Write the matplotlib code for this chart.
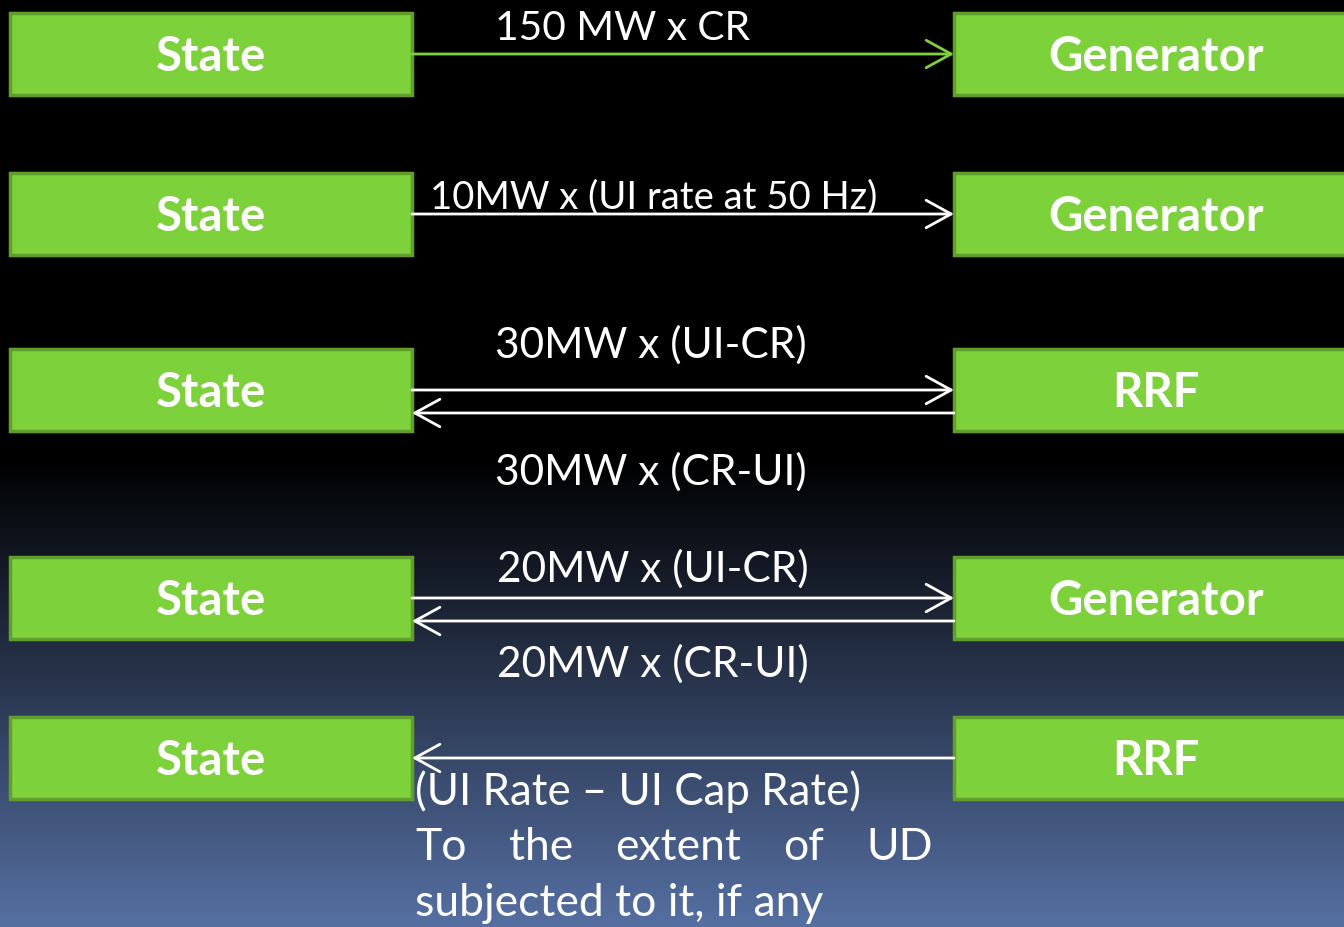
import numpy as np
import matplotlib
matplotlib.use("Agg")
import matplotlib.pyplot as plt
from matplotlib.patches import Rectangle

# ---------------- dados do diagrama ----------------
left_labels = ["State", "State", "State", "State", "State"]
right_labels = ["Generator", "Generator", "RRF", "Generator", "RRF"]

# direcção das setas por linha: +1 = State -> direita, -1 = direita -> State
arrow_dirs = [[1], [1], [1, -1], [1, -1], [-1]]
arrow_colors = ["#7dd13b", "white", "white", "white", "white"]

labels_above = ["150 MW x CR", "10MW x (UI rate at 50 Hz)", "30MW x (UI-CR)",
                "20MW x (UI-CR)", "(UI Rate \u2013 UI Cap Rate)"]
labels_below = ["", "", "30MW x (CR-UI)", "20MW x (CR-UI)", ""]
note_lines = ["To the extent of UD", "subjected to it, if any"]
# ---------------------------------------------------

W, H = 1344, 927
BOX_FILL = "#7dd13b"
BOX_EDGE = "#629e2b"
row_top = [13, 173, 349, 557, 717]
BOX_H = 82
LEFT_X0, LEFT_X1 = 10, 412
RIGHT_X0, RIGHT_X1 = 954, 1360

fig = plt.figure(figsize=(W / 100, H / 100), dpi=100)
ax = fig.add_axes([0, 0, 1, 1])
ax.set_xlim(0, W)
ax.set_ylim(H, 0)
ax.axis("off")

# fundo: preto em cima, degradé para azul acinzentado em baixo
ys = np.arange(H)
frac = np.clip((ys - 460) / (H - 460), 0, 1)
top = np.array([0, 0, 0]) / 255
bot = np.array([86, 112, 163]) / 255
grad = top[None, :] + frac[:, None] * (bot - top)[None, :]
img = np.repeat(grad[:, None, :], 2, axis=1)
ax.imshow(img, extent=(0, W, H, 0), aspect="auto", zorder=0)

box_font = dict(family=["Lato", "DejaVu Sans"], weight="bold", size=34, color="white")
FAM = ["Lato", "DejaVu Sans"]

arrow_style = "->,head_length=1.0,head_width=0.55"

for i in range(len(left_labels)):
    t = row_top[i]
    for x0, x1, txt in [(LEFT_X0, LEFT_X1, left_labels[i]), (RIGHT_X0, RIGHT_X1, right_labels[i])]:
        ax.add_patch(Rectangle((x0, t), x1 - x0, BOX_H, facecolor=BOX_FILL,
                               edgecolor=BOX_EDGE, linewidth=2.5, zorder=2))
        cx = 211 if x0 == LEFT_X0 else 1156
        ax.text(cx, t + BOX_H / 2 + 17, txt, ha="center", va="baseline", zorder=3, **box_font)

    dirs = arrow_dirs[i]
    offs = [0, 23][:len(dirs)]
    for d, o in zip(dirs, offs):
        y = t + BOX_H / 2 + o
        if d > 0:
            start, end = LEFT_X1, RIGHT_X0
        else:
            start, end = RIGHT_X0, LEFT_X1
        ax.annotate("", xy=(end, y), xytext=(start, y), zorder=4,
                    arrowprops=dict(arrowstyle=arrow_style, color=arrow_colors[i],
                                    lw=2, shrinkA=0, shrinkB=0, mutation_scale=18))

# rótulos das setas
above_pos = [(495, 40), (430, 208), (495, 358), (497, 582), (415, 805)]
above_size = [29.3, 27.5, 30.5, 30.5, 31.5]
below_pos = [None, None, (495, 485), (497, 677), None]
for i in range(len(labels_above)):
    x, y = above_pos[i]
    ax.text(x, y, labels_above[i], ha="left", va="baseline", zorder=5,
            family=FAM, size=above_size[i], color="white")
    if labels_below[i]:
        x, y = below_pos[i]
        ax.text(x, y, labels_below[i], ha="left", va="baseline", zorder=5,
                family=FAM, size=above_size[i], color="white")

# nota final, primeira linha justificada entre 415 e 933
renderer = fig.canvas.get_renderer()
words = note_lines[0].split()
items = [ax.text(0, 860, w, ha="left", va="baseline", zorder=5,
                 family=FAM, size=32, color="white") for w in words]
widths = [it.get_window_extent(renderer).width for it in items]
gap = (933 - 415 - sum(widths)) / (len(words) - 1)
x = 415
for it, w in zip(items, widths):
    it.set_x(x)
    x += w + gap
ax.text(415, 916, note_lines[1], ha="left", va="baseline", zorder=5,
        family=FAM, size=32, color="white")

fig.savefig("out.png", dpi=100)
